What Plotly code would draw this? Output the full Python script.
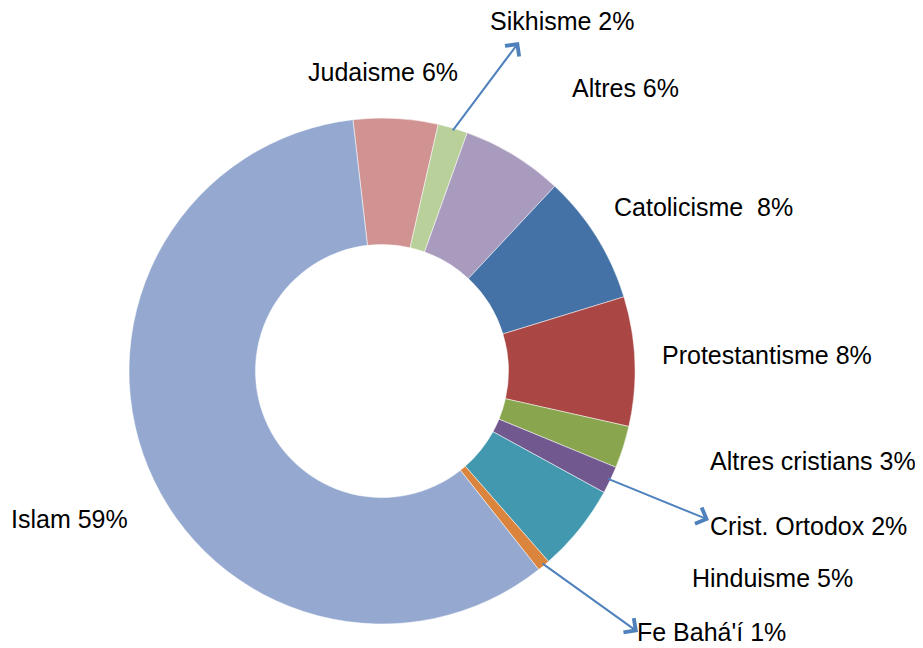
import math
import plotly.graph_objects as go

# ---- data (clockwise from 12 o'clock) ----
categories = ["Judaisme", "Sikhisme", "Altres", "Catolicisme", "Protestantisme",
              "Altres cristians", "Crist. Ortodox", "Hinduisme", "Fe Bahá'í", "Islam"]
values = [5.4, 1.9, 6.5, 8.3, 8.25, 2.7, 1.75, 5.6, 0.8, 58.8]
label_text = ["Judaisme 6%", "Sikhisme 2%", "Altres 6%", "Catolicisme  8%", "Protestantisme 8%",
              "Altres cristians 3%", "Crist. Ortodox 2%", "Hinduisme 5%", "Fe Bahá'í 1%", "Islam 59%"]
colors = ["#D09391", "#B9D09B", "#A99BBD", "#4471A6", "#AA4643",
          "#89A54E", "#71588F", "#4198AF", "#DB843D", "#95A9D0"]

W, H = 923, 648
OFF = 8  # page body margin
CX, CY, R = 382 - OFF, 371 - OFF, 253
ROT = -6.6

# label placements (screen pixel centers)
label_pos = {
    "Judaisme": (383, 72), "Sikhisme": (562, 21), "Altres": (625, 88),
    "Catolicisme": (703, 207), "Protestantisme": (767, 355),
    "Altres cristians": (813, 461), "Crist. Ortodox": (808, 526),
    "Hinduisme": (772, 578), "Fe Bahá'í": (711, 632), "Islam": (70, 519),
}
arrow_heads = {"Sikhisme": (519, 42), "Crist. Ortodox": (709, 520), "Fe Bahá'í": (638, 632)}


def to_paper(px, py):
    return (px - OFF) / W, 1 - (py - OFF) / H


fig = go.Figure(go.Pie(
    labels=categories, values=values, sort=False, direction="clockwise",
    rotation=ROT, hole=0.5, textinfo="none", hoverinfo="label+percent",
    marker=dict(colors=colors, line=dict(color="white", width=0.5)),
    domain=dict(x=[(CX - R) / W, (CX + R) / W], y=[(H - CY - R) / H, (H - CY + R) / H]),
    showlegend=False,
))

annotations = []
for cat, txt in zip(categories, label_text):
    x, y = to_paper(*label_pos[cat])
    annotations.append(dict(x=x, y=y, xref="paper", yref="paper",
                            text=txt, showarrow=False, xanchor="center", yanchor="middle",
                            font=dict(family="Liberation Sans, Arial", size=25, color="black")))

# arrows from slice mid-angle on outer edge to labels
total = sum(values)
cum = 0.0
for cat, v in zip(categories, values):
    mid = ROT + (cum + v / 2) / total * 360
    cum += v
    if cat in arrow_heads:
        a = math.radians(mid)
        tx = CX + (R - 4) * math.sin(a)
        ty = CY - (R - 4) * math.cos(a)
        hx, hy = arrow_heads[cat][0] - OFF, arrow_heads[cat][1] - OFF
        annotations.append(dict(x=hx / W, y=1 - hy / H, xref="paper", yref="paper",
                                text="", showarrow=True, ax=tx - hx, ay=ty - hy,
                                axref="pixel", ayref="pixel",
                                arrowhead=4, arrowsize=1.7, arrowwidth=2, arrowcolor="#4F81BD"))

fig.update_layout(width=W, height=H, margin=dict(l=0, r=0, t=0, b=0),
                  paper_bgcolor="white", plot_bgcolor="white", annotations=annotations)
fig.write_html("out.html")
